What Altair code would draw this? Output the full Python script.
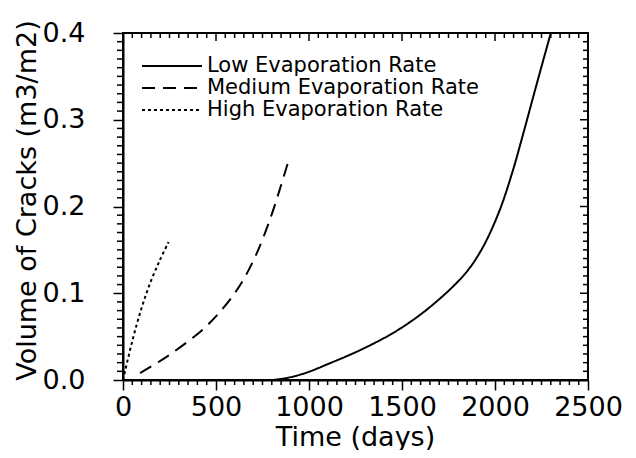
import altair as alt
import pandas as pd

# ---- data ----
series = ["Low Evaporation Rate", "Medium Evaporation Rate", "High Evaporation Rate"]

low_days = [0, 400, 800, 950, 1120, 1300, 1481, 1661, 1841, 1932, 2022, 2094, 2148, 2224, 2300]
low_vol = [0, 0, 0, 0.006, 0.020, 0.037, 0.058, 0.086, 0.123, 0.152, 0.194, 0.240, 0.281, 0.341, 0.400]

med_days = [92, 236, 417, 507, 597, 651, 723, 795, 849, 886]
med_vol = [0.008, 0.027, 0.056, 0.075, 0.099, 0.117, 0.148, 0.188, 0.224, 0.250]

high_days = [0, 50, 100, 150, 200, 245]
high_vol = [0, 0.045, 0.083, 0.114, 0.139, 0.159]

x_major_ticks = [0, 500, 1000, 1500, 2000, 2500]
x_minor_ticks = [v for v in range(0, 2501, 50) if v % 500]
y_major_ticks = [0.0, 0.1, 0.2, 0.3, 0.4]
y_minor_ticks = [round(i * 0.01, 2) for i in range(41) if i % 10]

dashes = [[1, 0], [13, 8], [3, 3]]

rows = []
for name, xs, ys in zip(series, [low_days, med_days, high_days], [low_vol, med_vol, high_vol]):
    for i, (a, b) in enumerate(zip(xs, ys)):
        rows.append({"series": name, "days": a, "vol": b, "order": i})
df = pd.DataFrame(rows)

FONT = "DejaVu Sans"
W, H = 465, 347
X_MAX, Y_MAX = 2500, 0.4

base = dict(domainColor="black", domainWidth=2, tickColor="black", tickWidth=1.5, grid=False)
label_style = dict(labelFont=FONT, labelFontSize=27, labelColor="black",
                   labelOverlap=False, labelFlush=False, labelBound=False,
                   titleFont=FONT, titleFontSize=27, titleColor="black", titleFontWeight="normal")

x_bottom = alt.Axis(orient="bottom", values=x_major_ticks, format="d", tickSize=10,
                    labelPadding=4, title="Time (days)", titleX=232, titleY=65,
                    titleBaseline="alphabetic", titleAlign="center", **base, **label_style)
y_left = alt.Axis(orient="left", values=y_major_ticks, format=".1f", tickSize=10,
                  labelPadding=28, title="Volume of Cracks (m3/m2)", titleX=-96, titleY=167,
                  titleAngle=-90, titleBaseline="middle", titleAlign="center", **base, **label_style)

xscale = alt.Scale(domain=[0, X_MAX], nice=False)
yscale = alt.Scale(domain=[0, Y_MAX], nice=False)

lines = alt.Chart(df).mark_line(color="black", strokeWidth=2, interpolate="catmull-rom", clip=True).encode(
    x=alt.X("days:Q", scale=xscale, axis=x_bottom),
    y=alt.Y("vol:Q", scale=yscale, axis=y_left),
    order="order:Q",
    strokeDash=alt.StrokeDash(
        "series:N", sort=series,
        scale=alt.Scale(domain=series, range=dashes),
        legend=alt.Legend(title=None, orient="none", legendX=38, legendY=22,
                          symbolType="M-3,0H3", symbolSize=400, symbolStrokeWidth=2,
                          symbolStrokeColor="black", symbolFillColor="transparent",
                          labelFont=FONT, labelFontSize=21, labelColor="black",
                          labelOffset=24, rowPadding=1, padding=0, labelLimit=500),
    ),
)


def x_ticks_layer(values, at, length):
    d = pd.DataFrame({"days": values})
    return alt.Chart(d).mark_rule(color="black", strokeWidth=1.5, y2Offset=length).encode(
        x=alt.X("days:Q", scale=xscale, axis=None),
        y=alt.Y(datum=at, scale=yscale, axis=None),
        y2=alt.Y2(datum=at),
    )


def y_ticks_layer(values, at, length):
    d = pd.DataFrame({"vol": values})
    return alt.Chart(d).mark_rule(color="black", strokeWidth=1.5, x2Offset=length).encode(
        y=alt.Y("vol:Q", scale=yscale, axis=None),
        x=alt.X(datum=at, scale=xscale, axis=None),
        x2=alt.X2(datum=at),
    )


tick_layers = [
    x_ticks_layer(x_minor_ticks, 0, 5),        # bottom minor, outward
    x_ticks_layer(x_major_ticks, Y_MAX, 8),    # top major, inward
    x_ticks_layer(x_minor_ticks, Y_MAX, 5),    # top minor, inward
    y_ticks_layer(y_minor_ticks, 0, -6),       # left minor, outward
    y_ticks_layer(y_major_ticks, X_MAX, -8),   # right major, inward
    y_ticks_layer(y_minor_ticks, X_MAX, -5),   # right minor, inward
]

chart = alt.layer(lines, *tick_layers).resolve_axis(
    x="independent", y="independent"
).properties(
    width=W, height=H,
    autosize=alt.AutoSizeParams(type="none"),
    padding={"left": 115, "top": 25, "right": 40, "bottom": 70},
    background="white",
).configure_view(stroke="black", strokeWidth=2)

chart.save("out.html", embed_options={"renderer": "svg", "actions": False})
